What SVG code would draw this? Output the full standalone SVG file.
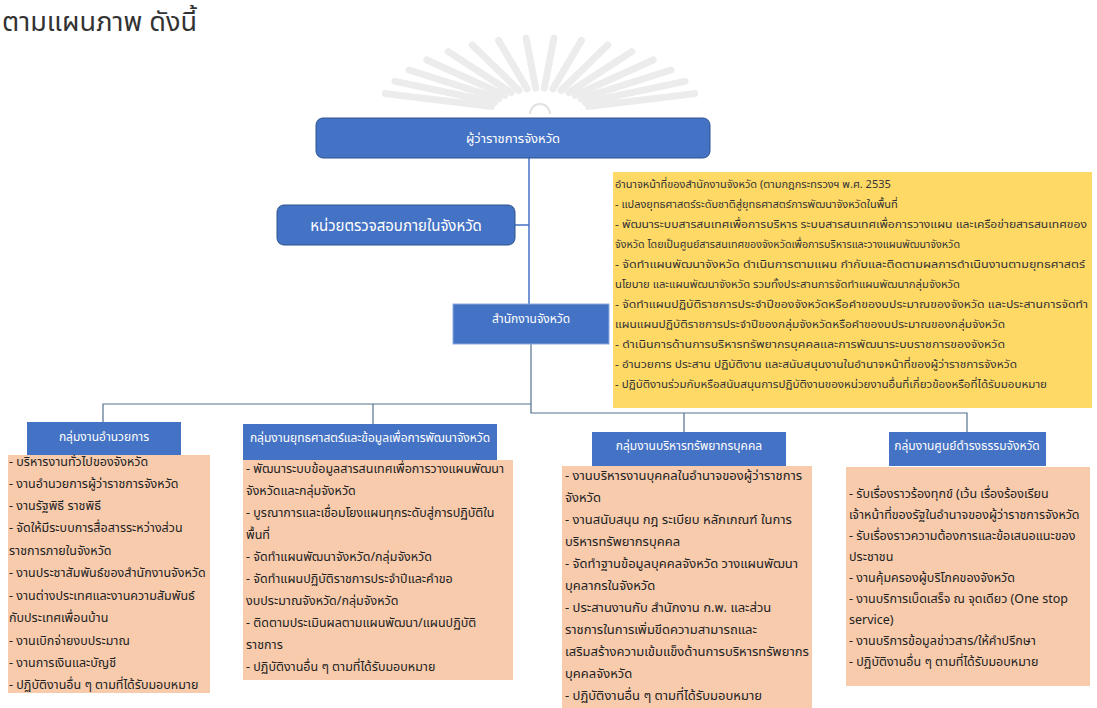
<svg xmlns="http://www.w3.org/2000/svg" width="1097" height="708" viewBox="0 0 1097 708">
<style>
.t{font-family:'Noto Sans Thai','Tahoma','Noto Sans',sans-serif}
.blue{fill:#4472C4}
.rb{fill:#4472C4;stroke:#2F528F;stroke-width:1}
.w{fill:#fff;font-size:13px;text-anchor:middle}
.b{fill:#222;font-size:12.5px}
.b3{fill:#222;font-size:13px}
.y{fill:#333;font-size:11px}
.c{stroke:#4472C4;stroke-width:1.5;fill:none}
.c2{stroke:#55708f;stroke-width:1.2;fill:none}
.ray{stroke:#ececec;stroke-width:7;stroke-linecap:round;fill:none}
</style>
<rect width="1097" height="708" fill="#fff"/>
<g id="watermark">
<path class="ray" d="M491.7,106.5 L385.4,93.6"/>
<path class="ray" d="M494.7,102.4 L395,81.3"/>
<path class="ray" d="M499,98.7 L409,70"/>
<path class="ray" d="M504.7,95.3 L426.9,60"/>
<path class="ray" d="M511.3,92.5 L448.2,51.6"/>
<path class="ray" d="M518.9,90.4 L472.3,45"/>
<path class="ray" d="M527.1,88.9 L498.6,40.5"/>
<path class="ray" d="M535.7,88.1 L526.1,38.3"/>
<path class="ray" d="M544.3,88.1 L553.9,38.3"/>
<path class="ray" d="M552.9,88.9 L581.4,40.5"/>
<path class="ray" d="M561.1,90.4 L607.7,45"/>
<path class="ray" d="M568.7,92.5 L631.8,51.6"/>
<path class="ray" d="M575.3,95.3 L653.1,60"/>
<path class="ray" d="M581,98.7 L671,70"/>
<path class="ray" d="M585.3,102.4 L685,81.3"/>
<path class="ray" d="M588.3,106.5 L694.6,93.6"/>
<path d="M530,114 A10,10 0 0 1 550,114" stroke="#e2e2e2" stroke-width="2" fill="none"/>
</g>
<text class="t" x="2" y="31" font-size="26" fill="#333" textLength="195" lengthAdjust="spacingAndGlyphs">ตามแผนภาพ ดังนี้</text>
<g id="connectors">
<path class="c" d="M529,158 V304"/>
<path class="c" d="M515,225 H529"/>
<path class="c2" d="M531,344 V413 H967 V432"/>
<path class="c2" d="M684,413 V432"/>
<path class="c2" d="M531,404 H103 V422"/>
<path class="c2" d="M373,404 V424"/>
</g>
<g id="governor">
<rect class="rb" x="316" y="118" width="394" height="40" rx="7"/>
<text class="t w" x="513" y="143">ผู้ว่าราชการจังหวัด</text>
</g>
<g id="audit">
<rect class="rb" x="277" y="205" width="238" height="40" rx="7"/>
<text class="t w" x="396" y="231" style="font-size:15px">หน่วยตรวจสอบภายในจังหวัด</text>
</g>
<g id="duties">
<rect x="613" y="172" width="479" height="236" fill="#FFD966"/>
<text class="t y" x="615" y="188">อำนาจหน้าที่ของสำนักงานจังหวัด  (ตามกฎกระทรวงฯ พ.ศ. 2535</text>
<text class="t y" x="615" y="208">- แปลงยุทธศาสตร์ระดับชาติสู่ยุทธศาสตร์การพัฒนาจังหวัดในพื้นที่</text>
<text class="t y" x="615" y="228" textLength="472" lengthAdjust="spacingAndGlyphs">- พัฒนาระบบสารสนเทศเพื่อการบริหาร ระบบสารสนเทศเพื่อการวางแผน และเครือข่ายสารสนเทศของ</text>
<text class="t y" x="615" y="248" textLength="345" lengthAdjust="spacingAndGlyphs">จังหวัด โดยเป็นศูนย์สารสนเทศของจังหวัดเพื่อการบริหารและวางแผนพัฒนาจังหวัด</text>
<text class="t y" x="615" y="268" textLength="470" lengthAdjust="spacingAndGlyphs">- จัดทำแผนพัฒนาจังหวัด ดำเนินการตามแผน กำกับและติดตามผลการดำเนินงานตามยุทธศาสตร์</text>
<text class="t y" x="615" y="288" textLength="345" lengthAdjust="spacingAndGlyphs">นโยบาย และแผนพัฒนาจังหวัด รวมทั้งประสานการจัดทำแผนพัฒนากลุ่มจังหวัด</text>
<text class="t y" x="615" y="308" textLength="473" lengthAdjust="spacingAndGlyphs">- จัดทำแผนปฏิบัติราชการประจำปีของจังหวัดหรือคำของบประมาณของจังหวัด และประสานการจัดทำ</text>
<text class="t y" x="615" y="328" textLength="390" lengthAdjust="spacingAndGlyphs">แผนแผนปฏิบัติราชการประจำปีของกลุ่มจังหวัดหรือคำของบประมาณของกลุ่มจังหวัด</text>
<text class="t y" x="615" y="348" textLength="390" lengthAdjust="spacingAndGlyphs">- ดำเนินการด้านการบริหารทรัพยากรบุคคลและการพัฒนาระบบราชการของจังหวัด</text>
<text class="t y" x="615" y="368" textLength="402" lengthAdjust="spacingAndGlyphs">- อำนวยการ ประสาน ปฏิบัติงาน และสนับสนุนงานในอำนาจหน้าที่ของผู้ว่าราชการจังหวัด</text>
<text class="t y" x="615" y="388" textLength="432" lengthAdjust="spacingAndGlyphs">- ปฏิบัติงานร่วมกับหรือสนับสนุนการปฏิบัติงานของหน่วยงานอื่นที่เกี่ยวข้องหรือที่ได้รับมอบหมาย</text>
</g>
<g id="office">
<rect class="blue" x="453" y="304" width="156" height="40" stroke="#8eaadb" stroke-width="1"/>
<text class="t w" x="531" y="323" style="font-size:12px">สำนักงานจังหวัด</text>
</g>
<g id="g1">
<rect class="blue" x="27" y="422" width="154" height="33"/>
<text class="t w" x="104" y="441" style="font-size:12px">กลุ่มงานอำนวยการ</text>
<rect x="8" y="455" width="202" height="238" fill="#F8CBAD"/>
<text class="t b" x="9" y="466">- บริหารงานทั่วไปของจังหวัด</text>
<text class="t b" x="9" y="488">- งานอำนวยการผู้ว่าราชการจังหวัด</text>
<text class="t b" x="9" y="510">- งานรัฐพิธี ราชพิธี</text>
<text class="t b" x="9" y="532">- จัดให้มีระบบการสื่อสารระหว่างส่วน</text>
<text class="t b" x="9" y="555">ราชการภายในจังหวัด</text>
<text class="t b" x="9" y="577">- งานประชาสัมพันธ์ของสำนักงานจังหวัด</text>
<text class="t b" x="9" y="600">- งานต่างประเทศและงานความสัมพันธ์</text>
<text class="t b" x="9" y="622">กับประเทศเพื่อนบ้าน</text>
<text class="t b" x="9" y="645">- งานเบิกจ่ายงบประมาณ</text>
<text class="t b" x="9" y="667">- งานการเงินและบัญชี</text>
<text class="t b" x="9" y="689">- ปฏิบัติงานอื่น ๆ ตามที่ได้รับมอบหมาย</text>
</g>
<g id="g2">
<rect class="blue" x="243" y="424" width="254" height="36"/>
<text class="t w" x="370" y="442" style="font-size:12px">กลุ่มงานยุทธศาสตร์และข้อมูลเพื่อการพัฒนาจังหวัด</text>
<rect x="243" y="460" width="270" height="220" fill="#F8CBAD"/>
<text class="t b" x="246" y="473">- พัฒนาระบบข้อมูลสารสนเทศเพื่อการวางแผนพัฒนา</text>
<text class="t b" x="246" y="495">จังหวัดและกลุ่มจังหวัด</text>
<text class="t b" x="246" y="517">- บูรณาการและเชื่อมโยงแผนทุกระดับสู่การปฏิบัติใน</text>
<text class="t b" x="246" y="539">พื้นที่</text>
<text class="t b" x="246" y="561">- จัดทำแผนพัฒนาจังหวัด/กลุ่มจังหวัด</text>
<text class="t b" x="246" y="583">- จัดทำแผนปฏิบัติราชการประจำปีและคำขอ</text>
<text class="t b" x="246" y="605">งบประมาณจังหวัด/กลุ่มจังหวัด</text>
<text class="t b" x="246" y="627">- ติดตามประเมินผลตามแผนพัฒนา/แผนปฏิบัติ</text>
<text class="t b" x="246" y="649">ราชการ</text>
<text class="t b" x="246" y="671">- ปฏิบัติงานอื่น ๆ ตามที่ได้รับมอบหมาย</text>
</g>
<g id="g3">
<rect class="blue" x="592" y="432" width="194" height="34"/>
<text class="t w" x="689" y="450" style="font-size:12px">กลุ่มงานบริหารทรัพยากรบุคคล</text>
<rect x="562" y="466" width="250" height="242" fill="#F8CBAD"/>
<text class="t b3" x="565" y="480">- งานบริหารงานบุคคลในอำนาจของผู้ว่าราชการ</text>
<text class="t b3" x="565" y="502">จังหวัด</text>
<text class="t b3" x="565" y="524">- งานสนับสนุน กฎ ระเบียบ หลักเกณฑ์ ในการ</text>
<text class="t b3" x="565" y="546">บริหารทรัพยากรบุคคล</text>
<text class="t b3" x="565" y="568">- จัดทำฐานข้อมูลบุคคลจังหวัด  วางแผนพัฒนา</text>
<text class="t b3" x="565" y="590">บุคลากรในจังหวัด</text>
<text class="t b3" x="565" y="612">- ประสานงานกับ สำนักงาน ก.พ. และส่วน</text>
<text class="t b3" x="565" y="634">ราชการในการเพิ่มขีดความสามารถและ</text>
<text class="t b3" x="565" y="656">เสริมสร้างความเข้มแข็งด้านการบริหารทรัพยากร</text>
<text class="t b3" x="565" y="678">บุคคลจังหวัด</text>
<text class="t b3" x="565" y="700">- ปฏิบัติงานอื่น ๆ ตามที่ได้รับมอบหมาย</text>
</g>
<g id="g4">
<rect class="blue" x="889" y="432" width="157" height="34"/>
<text class="t w" x="967" y="450" style="font-size:12px">กลุ่มงานศูนย์ดำรงธรรมจังหวัด</text>
<rect x="846" y="467" width="244" height="219" fill="#F8CBAD"/>
<text class="t b" x="849" y="498">- รับเรื่องราวร้องทุกข์ (เว้น เรื่องร้องเรียน</text>
<text class="t b" x="849" y="519">เจ้าหน้าที่ของรัฐในอำนาจของผู้ว่าราชการจังหวัด</text>
<text class="t b" x="849" y="540">- รับเรื่องราวความต้องการและข้อเสนอแนะของ</text>
<text class="t b" x="849" y="561">ประชาชน</text>
<text class="t b" x="849" y="582">- งานคุ้มครองผู้บริโภคของจังหวัด</text>
<text class="t b" x="849" y="603">- งานบริการเบ็ดเสร็จ ณ จุดเดียว (One stop</text>
<text class="t b" x="849" y="624">service)</text>
<text class="t b" x="849" y="645">- งานบริการข้อมูลข่าวสาร/ให้คำปรึกษา</text>
<text class="t b" x="849" y="666">- ปฏิบัติงานอื่น ๆ ตามที่ได้รับมอบหมาย</text>
</g>
</svg>
